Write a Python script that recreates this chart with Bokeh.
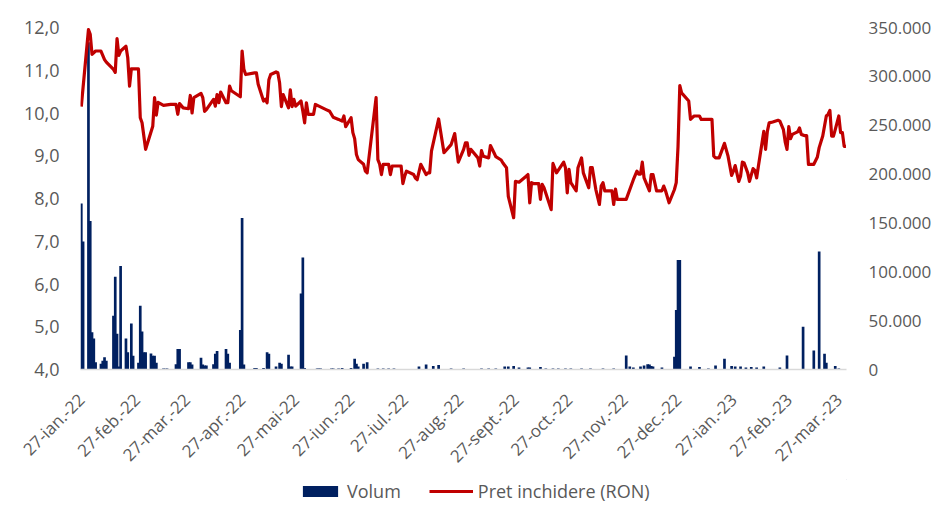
import math
import pandas as pd
from bokeh.plotting import figure
from bokeh.layouts import column
from bokeh.models import (Range1d, LinearAxis, FixedTicker, Legend, LegendItem,
                          ColumnDataSource, CDSView, IndexFilter)
from bokeh.embed import file_html
from bokeh.resources import INLINE

# ---------------- data ----------------
start_date = "2022-01-27"

price_dates = [
    "2022-01-27", "2022-01-31", "2022-02-01", "2022-02-02", "2022-02-04", "2022-02-07",
    "2022-02-08", "2022-02-09", "2022-02-10", "2022-02-14", "2022-02-15", "2022-02-16",
    "2022-02-17", "2022-02-18", "2022-02-21", "2022-02-22", "2022-02-23", "2022-02-24",
    "2022-02-28", "2022-03-01", "2022-03-02", "2022-03-04", "2022-03-08", "2022-03-09",
    "2022-03-10", "2022-03-11", "2022-03-14", "2022-03-18", "2022-03-21", "2022-03-22",
    "2022-03-23", "2022-03-25", "2022-03-28", "2022-03-29", "2022-03-30", "2022-03-31",
    "2022-04-04", "2022-04-05", "2022-04-06", "2022-04-07", "2022-04-11", "2022-04-12",
    "2022-04-13", "2022-04-14", "2022-04-15", "2022-04-18", "2022-04-19", "2022-04-20",
    "2022-04-21", "2022-04-26", "2022-04-27", "2022-04-28", "2022-04-29", "2022-05-04",
    "2022-05-05", "2022-05-06", "2022-05-09", "2022-05-10", "2022-05-11", "2022-05-12",
    "2022-05-13", "2022-05-16", "2022-05-17", "2022-05-18", "2022-05-19", "2022-05-20",
    "2022-05-23", "2022-05-24", "2022-05-25", "2022-05-26", "2022-05-27", "2022-05-30",
    "2022-05-31", "2022-06-01", "2022-06-02", "2022-06-03", "2022-06-06", "2022-06-07",
    "2022-06-09", "2022-06-13", "2022-06-15", "2022-06-16", "2022-06-17", "2022-06-20",
    "2022-06-22", "2022-06-23", "2022-06-24", "2022-06-27", "2022-06-28", "2022-06-29",
    "2022-06-30", "2022-07-01", "2022-07-04", "2022-07-05", "2022-07-06", "2022-07-11",
    "2022-07-12", "2022-07-13", "2022-07-14", "2022-07-15", "2022-07-18", "2022-07-19",
    "2022-07-20", "2022-07-22", "2022-07-25", "2022-07-26", "2022-07-27", "2022-07-28",
    "2022-08-01", "2022-08-02", "2022-08-03", "2022-08-05", "2022-08-08", "2022-08-09",
    "2022-08-10", "2022-08-11", "2022-08-15", "2022-08-18", "2022-08-22", "2022-08-24",
    "2022-08-26", "2022-08-29", "2022-08-30", "2022-08-31", "2022-09-01", "2022-09-02",
    "2022-09-06", "2022-09-07", "2022-09-08", "2022-09-09", "2022-09-12", "2022-09-13",
    "2022-09-15", "2022-09-16", "2022-09-19", "2022-09-20", "2022-09-22", "2022-09-23",
    "2022-09-26", "2022-09-27", "2022-09-29", "2022-10-03", "2022-10-04", "2022-10-05",
    "2022-10-06", "2022-10-07", "2022-10-10", "2022-10-11", "2022-10-12", "2022-10-13",
    "2022-10-17", "2022-10-18", "2022-10-20", "2022-10-24", "2022-10-25", "2022-10-26",
    "2022-10-27", "2022-10-28", "2022-10-31", "2022-11-01", "2022-11-03", "2022-11-04",
    "2022-11-07", "2022-11-08", "2022-11-09", "2022-11-11", "2022-11-13", "2022-11-14",
    "2022-11-15", "2022-11-16", "2022-11-20", "2022-11-21", "2022-11-22", "2022-11-23",
    "2022-11-28", "2022-12-02", "2022-12-04", "2022-12-05", "2022-12-06", "2022-12-07",
    "2022-12-08", "2022-12-11", "2022-12-12", "2022-12-13", "2022-12-15", "2022-12-18",
    "2022-12-19", "2022-12-20", "2022-12-22", "2022-12-25", "2022-12-26", "2022-12-27",
    "2022-12-28", "2022-12-29", "2023-01-02", "2023-01-03", "2023-01-04", "2023-01-05",
    "2023-01-08", "2023-01-09", "2023-01-12", "2023-01-15", "2023-01-16", "2023-01-17",
    "2023-01-19", "2023-01-22", "2023-01-24", "2023-01-26", "2023-01-27", "2023-01-28",
    "2023-01-30", "2023-01-31", "2023-02-01", "2023-02-02", "2023-02-04", "2023-02-05",
    "2023-02-07", "2023-02-08", "2023-02-09", "2023-02-10", "2023-02-12", "2023-02-13",
    "2023-02-14", "2023-02-15", "2023-02-16", "2023-02-18", "2023-02-21", "2023-02-22",
    "2023-02-24", "2023-02-25", "2023-02-26", "2023-02-27", "2023-02-28", "2023-03-01",
    "2023-03-03", "2023-03-04", "2023-03-05", "2023-03-06", "2023-03-08", "2023-03-09",
    "2023-03-10", "2023-03-13", "2023-03-15", "2023-03-16", "2023-03-18", "2023-03-20",
    "2023-03-21", "2023-03-22", "2023-03-23", "2023-03-24", "2023-03-25", "2023-03-27",
    "2023-03-28", "2023-03-29", "2023-03-30", "2023-03-31",
]

price_values = [
    10.15, 11.95, 11.84, 11.37, 11.45, 11.45,
    11.35, 11.25, 11.19, 11.02, 10.95, 11.74,
    11.35, 11.45, 11.56, 11.29, 10.63, 11.03,
    11.03, 9.89, 9.77, 9.15, 9.69, 10.36,
    9.95, 10.25, 10.18, 10.20, 10.20, 9.97,
    10.22, 10.12, 10.10, 10.41, 10.00, 10.36,
    10.46, 10.36, 10.04, 10.08, 10.32, 10.16,
    10.43, 10.24, 10.49, 10.24, 10.24, 10.63,
    10.52, 10.38, 11.45, 11.02, 10.90, 10.94,
    10.94, 10.67, 10.28, 10.32, 10.24, 10.78,
    10.90, 10.96, 10.94, 10.70, 10.15, 10.43,
    10.12, 10.54, 10.15, 10.32, 10.16, 10.28,
    10.04, 9.77, 10.24, 9.97, 9.97, 10.20,
    10.16, 10.08, 10.04, 9.97, 9.90, 9.85,
    9.81, 9.93, 9.68, 9.89, 9.54, 9.40,
    9.03, 8.91, 8.80, 8.64, 8.60, 10.36,
    8.91, 8.80, 8.56, 8.80, 8.80, 8.56,
    8.76, 8.76, 8.76, 8.35, 8.52, 8.64,
    8.56, 8.48, 8.44, 8.80, 8.56, 8.60,
    8.60, 9.11, 9.86, 9.07, 9.26, 9.52,
    8.85, 9.15, 9.30, 9.30, 9.01, 9.15,
    8.95, 8.76, 9.12, 8.99, 8.95, 9.24,
    9.07, 8.98, 8.90, 8.83, 8.72, 8.05,
    7.55, 8.40, 8.38, 8.52, 8.56, 7.90,
    8.37, 8.35, 8.35, 7.98, 8.33, 8.25,
    7.74, 8.82, 8.60, 8.85, 8.72, 8.13,
    8.68, 8.37, 8.18, 8.72, 8.95, 8.60,
    8.25, 8.72, 8.72, 8.21, 7.86, 8.29,
    8.37, 8.18, 8.18, 7.86, 8.22, 7.98,
    7.98, 8.44, 8.64, 8.57, 8.57, 8.85,
    8.48, 8.18, 8.56, 8.56, 8.18, 8.18,
    8.29, 8.18, 7.90, 8.21, 8.37, 9.22,
    10.64, 10.47, 10.28, 9.85, 9.89, 9.93,
    9.93, 9.85, 9.85, 9.85, 8.99, 8.95,
    8.95, 9.29, 8.99, 8.54, 8.64, 8.77,
    8.40, 8.52, 8.85, 8.83, 8.60, 8.40,
    8.70, 8.66, 8.48, 8.76, 9.30, 9.57,
    9.15, 9.57, 9.77, 9.79, 9.83, 9.81,
    9.61, 9.32, 9.15, 9.68, 9.40, 9.50,
    9.54, 9.56, 9.65, 9.50, 9.47, 9.47,
    8.80, 8.80, 8.97, 9.19, 9.46, 9.93,
    9.97, 10.06, 9.46, 9.46, 9.61, 9.93,
    9.54, 9.54, 9.22, 9.22,
]

volume_dates = [
    "2022-01-27", "2022-01-28", "2022-01-31", "2022-02-01", "2022-02-02", "2022-02-03",
    "2022-02-04", "2022-02-07", "2022-02-08", "2022-02-09", "2022-02-10", "2022-02-14",
    "2022-02-15", "2022-02-16", "2022-02-17", "2022-02-18", "2022-02-21", "2022-02-22",
    "2022-02-24", "2022-02-25", "2022-02-28", "2022-03-01", "2022-03-02", "2022-03-03",
    "2022-03-04", "2022-03-07", "2022-03-08", "2022-03-09", "2022-03-10", "2022-03-14",
    "2022-03-15", "2022-03-16", "2022-03-21", "2022-03-22", "2022-03-23", "2022-03-28",
    "2022-03-29", "2022-03-30", "2022-04-04", "2022-04-05", "2022-04-06", "2022-04-07",
    "2022-04-11", "2022-04-12", "2022-04-13", "2022-04-18", "2022-04-19", "2022-04-20",
    "2022-04-26", "2022-04-27", "2022-04-28", "2022-05-04", "2022-05-05", "2022-05-09",
    "2022-05-11", "2022-05-12", "2022-05-16", "2022-05-18", "2022-05-19", "2022-05-23",
    "2022-05-24", "2022-05-25", "2022-05-30", "2022-05-31", "2022-06-01", "2022-06-08",
    "2022-06-09", "2022-06-10", "2022-06-16", "2022-06-17", "2022-06-20", "2022-06-22",
    "2022-06-27", "2022-06-29", "2022-06-30", "2022-07-01", "2022-07-04", "2022-07-06",
    "2022-07-12", "2022-07-15", "2022-07-18", "2022-07-21", "2022-08-04", "2022-08-08",
    "2022-08-12", "2022-08-15", "2022-08-22", "2022-08-29", "2022-09-08", "2022-09-12",
    "2022-09-16", "2022-09-21", "2022-09-23", "2022-09-26", "2022-09-29", "2022-10-04",
    "2022-10-05", "2022-10-11", "2022-10-14", "2022-10-18", "2022-10-21", "2022-10-25",
    "2022-10-28", "2022-11-03", "2022-11-08", "2022-11-15", "2022-11-21", "2022-11-28",
    "2022-11-30", "2022-12-02", "2022-12-06", "2022-12-08", "2022-12-10", "2022-12-11",
    "2022-12-12", "2022-12-13", "2022-12-18", "2022-12-25", "2022-12-26", "2022-12-27",
    "2022-12-28", "2023-01-03", "2023-01-08", "2023-01-13", "2023-01-17", "2023-01-22",
    "2023-01-26", "2023-01-28", "2023-01-31", "2023-02-03", "2023-02-06", "2023-02-09",
    "2023-02-13", "2023-02-22", "2023-02-26", "2023-03-07", "2023-03-13", "2023-03-16",
    "2023-03-19", "2023-03-20", "2023-03-25", "2023-03-27",
]

volume_values = [
    170000, 131000, 335000, 152000, 38000, 31600,
    7500, 6000, 9000, 12500, 9000, 55000,
    95000, 36700, 3000, 106000, 31600, 17600,
    47200, 14000, 7000, 65300, 39000, 17600,
    17600, 16300, 14000, 14000, 7000, 1000,
    800, 1000, 5500, 21000, 21000, 7500,
    7500, 5000, 12000, 5000, 4000, 4000,
    5500, 16000, 19000, 21000, 16000, 7000,
    40500, 155000, 5000, 1500, 1500, 1500,
    17600, 16000, 3000, 7000, 6000, 15000,
    3000, 3000, 77800, 114500, 1500, 1000,
    1000, 1000, 1000, 1000, 1000, 1500,
    1500, 11000, 6000, 3000, 6000, 7500,
    1000, 1000, 1000, 1000, 3000, 5000,
    3500, 4500, 1000, 1000, 1000, 1000,
    1000, 3000, 3000, 3500, 2000, 2000,
    2000, 2500, 1000, 1000, 1000, 1000,
    1000, 1000, 1000, 1000, 1000, 14300,
    3000, 2000, 3000, 4000, 5500, 5000,
    3500, 3000, 2000, 13000, 61000, 112000,
    112000, 3000, 2500, 1000, 4000, 11000,
    3500, 3000, 3000, 2000, 2500, 2000,
    3000, 2000, 14300, 43800, 19400, 120700,
    16000, 7000, 3500, 1000,
]

tick_dates = [
    "2022-01-27", "2022-02-27", "2022-03-27", "2022-04-27", "2022-05-27", "2022-06-27",
    "2022-07-27", "2022-08-27", "2022-09-27", "2022-10-27", "2022-11-27", "2022-12-27",
    "2023-01-27", "2023-02-27", "2023-03-27",
]
tick_labels = [
    "27-ian.-22", "27-feb.-22", "27-mar.-22", "27-apr.-22", "27-mai-22", "27-iun.-22",
    "27-iul.-22", "27-aug.-22", "27-sept.-22", "27-oct.-22", "27-nov.-22", "27-dec.-22",
    "27-ian.-23", "27-feb.-23", "27-mar.-23",
]

price_ticks = [4, 5, 6, 7, 8, 9, 10, 11, 12]
price_tick_labels = ["4,0", "5,0", "6,0", "7,0", "8,0", "9,0", "10,0", "11,0", "12,0"]
volume_ticks = [0, 50000, 100000, 150000, 200000, 250000, 300000, 350000]
volume_tick_labels = ["0", "50.000", "100.000", "150.000", "200.000", "250.000",
                      "300.000", "350.000"]

series_names = ["Volum", "Pret inchidere (RON)"]

# ---------------- helpers ----------------
t0 = pd.Timestamp(start_date)


def day_index(dates):
    return [float((pd.Timestamp(d) - t0).days) for d in dates]


FONT = "Open Sans"
TXT = "#595959"
NAVY = "#002060"
RED = "#C00000"

price_src = ColumnDataSource(dict(x=day_index(price_dates), y=price_values))
vol_src = ColumnDataSource(dict(x=day_index(volume_dates), v=volume_values))

# ---------------- main chart ----------------
p = figure(width=934, height=479, output_backend="svg", toolbar_location=None,
           x_range=Range1d(-0.45, 428.3), y_range=Range1d(4, 12),
           min_border_left=80, min_border_right=81, min_border_top=27,
           min_border_bottom=110)
p.extra_y_ranges = {"vol": Range1d(0, 350000)}

p.xgrid.visible = False
p.ygrid.visible = False
p.outline_line_color = None
p.background_fill_color = "white"
p.border_fill_color = "white"

p.vbar(x="x", top="v", bottom=0, width=1.5, source=vol_src,
       y_range_name="vol", fill_color=NAVY, line_color=None)
p.line(x="x", y="y", source=price_src, line_color=RED, line_width=3.2,
       line_join="round")

# x axis
xa = p.xaxis[0]
xt = day_index(tick_dates)
xa.ticker = FixedTicker(ticks=xt)
xa.major_label_overrides = {t: lab for t, lab in zip(xt, tick_labels)}
xa.major_label_orientation = math.pi / 4
xa.major_tick_line_color = None
xa.minor_tick_line_color = None
xa.axis_line_color = "#d9d9d9"
xa.axis_line_width = 1.5
xa.major_label_text_font = FONT
xa.major_label_text_font_size = "17px"
xa.major_label_text_color = TXT
xa.major_label_standoff = 21

# left axis (price)
ya = p.yaxis[0]
ya.ticker = FixedTicker(ticks=price_ticks)
ya.major_label_overrides = {float(t): lab for t, lab in zip(price_ticks, price_tick_labels)}
ya.axis_line_color = None
ya.major_tick_line_color = None
ya.minor_tick_line_color = None
ya.major_label_text_font = FONT
ya.major_label_text_font_size = "18px"
ya.major_label_text_color = TXT
ya.major_label_standoff = 15

# right axis (volume)
ra = LinearAxis(y_range_name="vol")
ra.ticker = FixedTicker(ticks=volume_ticks)
ra.major_label_overrides = {float(t): lab for t, lab in zip(volume_ticks, volume_tick_labels)}
ra.axis_line_color = None
ra.major_tick_line_color = None
ra.minor_tick_line_color = None
ra.major_label_text_font = FONT
ra.major_label_text_font_size = "17px"
ra.major_label_text_color = TXT
ra.major_label_standoff = 16
p.add_layout(ra, "right")

# ---------------- legend strip ----------------
# the strip reuses the chart's sources (one row each, viewed through ranges that
# hold no data), so only the legend with its glyph swatches is visible
lg = figure(width=934, height=24, output_backend="svg", toolbar_location=None,
            x_range=Range1d(-30, -20), y_range=Range1d(-30, -20),
            x_axis_location=None, y_axis_location=None,
            min_border_left=0, min_border_right=0, min_border_top=0,
            min_border_bottom=0)
lg.extra_y_ranges = {"vol": Range1d(-30, -20)}
lg.xgrid.visible = False
lg.ygrid.visible = False
lg.outline_line_color = None
lg.background_fill_color = "white"
lg.border_fill_color = "white"

lbar = lg.vbar(x="x", top="v", bottom=0, width=1.5, source=vol_src,
               view=CDSView(filter=IndexFilter(indices=[0])),
               y_range_name="vol", fill_color=NAVY, line_color=None)
lline = lg.line(x="x", y="y", source=price_src,
                view=CDSView(filter=IndexFilter(indices=[0])),
                line_color=RED, line_width=3)

legend = Legend(items=[LegendItem(label=series_names[0], renderers=[lbar]),
                       LegendItem(label=series_names[1], renderers=[lline])],
                orientation="horizontal", location=(218, 0),
                border_line_color=None, background_fill_alpha=0,
                padding=0, margin=0, spacing=28, glyph_width=44, glyph_height=14,
                label_standoff=5, label_text_font=FONT, label_text_font_size="18px",
                label_text_color=TXT)
lg.add_layout(legend, "center")

layout = column(p, lg, spacing=0)

open("out.html", "w").write(file_html(layout, INLINE))
